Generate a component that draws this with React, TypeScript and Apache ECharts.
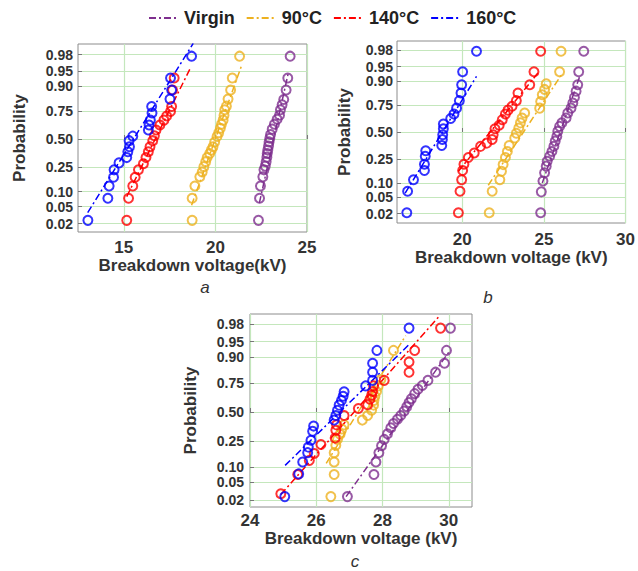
import React, { useEffect, useRef } from "react";
import * as echarts from "echarts";

// ---------- data (breakdown voltage kV, cumulative probability) ----------
const seriesNames = ["Virgin", "90°C", "140°C", "160°C"];
const seriesColors = ["#7E2F8E", "#EDB120", "#FF0000", "#0000FF"];
const probTicks = [0.02, 0.05, 0.1, 0.25, 0.5, 0.75, 0.9, 0.95, 0.98];
const probTickLabels = ["0.02", "0.05", "0.10", "0.25", "0.50", "0.75", "0.90", "0.95", "0.98"];

// panel a
const aVirginV = [22.35, 22.41, 22.46, 22.59, 22.65, 22.72, 22.77, 22.81, 22.83, 22.86, 22.9, 22.93, 22.97, 23.01, 23.1, 23.22, 23.37, 23.5, 23.55, 23.64, 23.73, 23.86, 23.95, 24.08];
const aVirginP = [0.024, 0.075, 0.127, 0.179, 0.227, 0.255, 0.291, 0.33, 0.363, 0.394, 0.433, 0.472, 0.508, 0.544, 0.595, 0.641, 0.684, 0.719, 0.761, 0.797, 0.832, 0.883, 0.931, 0.978];
const a90V = [18.73, 18.73, 18.88, 19.15, 19.28, 19.37, 19.47, 19.55, 19.69, 19.78, 19.87, 19.96, 20.09, 20.18, 20.27, 20.33, 20.42, 20.47, 20.51, 20.6, 20.69, 20.83, 20.92, 21.32];
const a90P = [0.024, 0.075, 0.127, 0.179, 0.212, 0.251, 0.291, 0.326, 0.363, 0.394, 0.425, 0.472, 0.524, 0.56, 0.603, 0.641, 0.677, 0.719, 0.761, 0.788, 0.834, 0.883, 0.931, 0.978];
const a140V = [15.16, 15.26, 15.49, 15.62, 15.8, 16.07, 16.21, 16.34, 16.43, 16.58, 16.67, 16.76, 16.97, 17.19, 17.34, 17.55, 17.61, 17.66, 17.75];
const a140P = [0.024, 0.075, 0.127, 0.176, 0.227, 0.274, 0.326, 0.378, 0.425, 0.484, 0.532, 0.587, 0.633, 0.677, 0.712, 0.749, 0.785, 0.883, 0.931];
const a160V = [13.04, 14.13, 14.2, 14.44, 14.47, 14.74, 15.16, 15.22, 15.31, 15.29, 15.49, 16.34, 16.38, 16.45, 16.54, 16.52, 17.52, 17.61, 17.55, 18.7];
const a160P = [0.024, 0.075, 0.127, 0.176, 0.227, 0.281, 0.326, 0.378, 0.425, 0.484, 0.528, 0.587, 0.633, 0.677, 0.736, 0.785, 0.834, 0.883, 0.931, 0.978];
const aVirginFit = [[22.4, 0.06], [24.0, 0.95]];
const a90Fit = [[18.7, 0.054], [21.41, 0.961]];
const a140Fit = [[15.16, 0.081], [18.6, 0.955]];
const a160Fit = [[13.03, 0.037], [18.79, 0.99]];

// panel b
const bVirginV = [24.8, 24.84, 24.94, 25.04, 25.14, 25.2, 25.35, 25.49, 25.61, 25.69, 25.79, 25.85, 25.96, 26.1, 26.36, 26.46, 26.66, 26.77, 26.87, 26.97, 27.07, 27.13, 27.44];
const bVirginP = [0.021, 0.066, 0.109, 0.152, 0.195, 0.23, 0.271, 0.312, 0.359, 0.409, 0.456, 0.508, 0.556, 0.591, 0.637, 0.684, 0.726, 0.767, 0.808, 0.848, 0.883, 0.935, 0.979];
const b90V = [21.65, 21.83, 22.3, 22.4, 22.5, 22.64, 22.76, 22.87, 23.21, 23.31, 23.46, 23.56, 23.66, 23.82, 24.74, 24.8, 24.9, 25.04, 25.14, 25.96, 26.05];
const b90P = [0.021, 0.068, 0.115, 0.161, 0.206, 0.261, 0.312, 0.367, 0.44, 0.488, 0.54, 0.591, 0.637, 0.684, 0.726, 0.779, 0.826, 0.858, 0.887, 0.935, 0.979];
const b140V = [19.76, 19.86, 19.96, 20.02, 20.1, 20.37, 20.73, 21.12, 21.5, 21.83, 21.89, 22.0, 22.26, 22.45, 22.64, 22.8, 23.05, 23.31, 23.41, 24.13, 24.39, 24.8];
const b140P = [0.021, 0.068, 0.115, 0.166, 0.209, 0.261, 0.298, 0.359, 0.39, 0.425, 0.472, 0.532, 0.568, 0.622, 0.674, 0.709, 0.742, 0.785, 0.837, 0.883, 0.935, 0.979];
const b160V = [16.6, 16.65, 17.01, 17.68, 17.68, 17.73, 17.76, 18.74, 18.78, 18.8, 18.84, 18.84, 19.29, 19.49, 19.65, 19.82, 19.92, 19.96, 20.02, 20.87];
const b160P = [0.021, 0.068, 0.115, 0.166, 0.209, 0.271, 0.319, 0.367, 0.425, 0.472, 0.532, 0.579, 0.633, 0.674, 0.726, 0.785, 0.837, 0.883, 0.935, 0.979];
const bVirginFit = [[24.9, 0.1], [27.2, 0.92]];
const b90Fit = [[21.59, 0.09], [26.16, 0.932]];
const b140Fit = [[19.75, 0.16], [24.63, 0.931]];
const b160Fit = [[16.5, 0.062], [20.87, 0.919]];

// panel c
const cVirginV = [26.94, 27.74, 27.8, 27.89, 27.97, 28.05, 28.15, 28.25, 28.33, 28.45, 28.55, 28.65, 28.73, 28.8, 28.87, 28.97, 29.07, 29.2, 29.37, 29.6, 29.87, 29.93, 30.05];
const cVirginP = [0.024, 0.072, 0.121, 0.171, 0.215, 0.261, 0.305, 0.356, 0.394, 0.433, 0.468, 0.508, 0.548, 0.587, 0.622, 0.666, 0.702, 0.732, 0.77, 0.824, 0.873, 0.925, 0.975];
const c90V = [26.44, 26.54, 26.54, 26.54, 26.59, 26.64, 26.72, 26.77, 26.84, 27.39, 27.55, 27.67, 27.73, 27.74, 27.77, 27.82, 27.87, 27.95, 28.33];
const c90P = [0.024, 0.072, 0.121, 0.171, 0.218, 0.261, 0.302, 0.345, 0.382, 0.425, 0.468, 0.516, 0.564, 0.606, 0.644, 0.684, 0.729, 0.776, 0.925];
const c140V = [24.93, 25.44, 25.79, 25.94, 26.14, 26.57, 26.59, 26.61, 26.84, 27.27, 27.55, 27.62, 27.67, 27.7, 27.73, 28.05, 28.8, 28.8, 28.97, 29.75];
const c140P = [0.028, 0.072, 0.129, 0.166, 0.224, 0.271, 0.334, 0.382, 0.468, 0.532, 0.568, 0.618, 0.652, 0.684, 0.729, 0.77, 0.824, 0.879, 0.925, 0.975];
const c160V = [25.05, 25.47, 25.59, 25.74, 25.76, 25.84, 25.89, 25.92, 26.54, 26.59, 26.64, 26.69, 26.76, 26.81, 26.84, 27.49, 27.7, 27.7, 27.7, 27.83, 28.8];
const c160P = [0.024, 0.074, 0.121, 0.171, 0.206, 0.255, 0.326, 0.371, 0.425, 0.468, 0.516, 0.564, 0.606, 0.644, 0.681, 0.729, 0.77, 0.824, 0.873, 0.925, 0.975];
const cVirginFit = [[26.9, 0.024], [30.0, 0.919]];
const c90Fit = [[26.3, 0.115], [28.7, 0.963]];
const c140Fit = [[24.93, 0.027], [29.7, 0.987]];
const c160Fit = [[25.06, 0.106], [28.83, 0.945]];

// x-axis tick labels
const aXTicks = [15, 20, 25];
const bXTicks = [20, 25, 30];
const cXTicks = [24, 26, 28, 30];

// ---------- normal-probability scale ----------
function probit(p: number): number {
  const a = [-39.69683028665376, 220.9460984245205, -275.9285104469687, 138.357751867269, -30.66479806614716, 2.506628277459239];
  const b = [-54.47609879822406, 161.5858368580409, -155.6989798598866, 66.80131188771972, -13.28068155833025];
  const c = [-0.007784894002430293, -0.3223964580411365, -2.400758277161838, -2.549671010243296, 4.374664141464968, 2.938163982698783];
  const d = [0.007784695709041462, 0.3224671290700398, 2.445134137142996, 3.754408661907416];
  const pl = 0.02425;
  if (p < pl) {
    const q = Math.sqrt(-2 * Math.log(p));
    return (((((c[0] * q + c[1]) * q + c[2]) * q + c[3]) * q + c[4]) * q + c[5]) / ((((d[0] * q + d[1]) * q + d[2]) * q + d[3]) * q + 1);
  }
  if (p <= 1 - pl) {
    const q = p - 0.5;
    const r = q * q;
    return ((((((a[0] * r + a[1]) * r + a[2]) * r + a[3]) * r + a[4]) * r + a[5]) * q) / (((((b[0] * r + b[1]) * r + b[2]) * r + b[3]) * r + b[4]) * r + 1);
  }
  const q = Math.sqrt(-2 * Math.log(1 - p));
  return -(((((c[0] * q + c[1]) * q + c[2]) * q + c[3]) * q + c[4]) * q + c[5]) / ((((d[0] * q + d[1]) * q + d[2]) * q + d[3]) * q + 1);
}

const FONT = "Liberation Sans, Arial, Helvetica, sans-serif";

export default function App() {
  const ref = useRef<HTMLDivElement>(null);

  useEffect(() => {
    if (!ref.current) return;
    const chart = echarts.init(ref.current, null, { renderer: "svg" });

    const zTicks = probTicks.map(probit);
    const probLabel = (v: number) => {
      let best = 0;
      for (let i = 0; i < zTicks.length; i++) if (Math.abs(zTicks[i] - v) < Math.abs(zTicks[best] - v)) best = i;
      return probTickLabels[best];
    };

    const panels = [
      {
        grid: { left: 78, top: 44, width: 229, height: 188 },
        xMin: 12.5, xMax: 25, yMin: -2.26, yMax: 2.31, xTicks: aXTicks,
        xName: "Breakdown voltage(kV)", xLabelMargin: 7, xNameGap: 25, yLabelMargin: 5, yNameGap: 50,
        pts: [[aVirginV, aVirginP], [a90V, a90P], [a140V, a140P], [a160V, a160P]],
        fits: [aVirginFit, a90Fit, a140Fit, a160Fit],
      },
      {
        grid: { left: 397, top: 41, width: 231, height: 182 },
        xMin: 16, xMax: 30, yMin: -2.29, yMax: 2.29, xTicks: bXTicks,
        xName: "Breakdown voltage (kV)", xLabelMargin: 8, xNameGap: 24, yLabelMargin: 4, yNameGap: 44,
        pts: [[bVirginV, bVirginP], [b90V, b90P], [b140V, b140P], [b160V, b160P]],
        fits: [bVirginFit, b90Fit, b140Fit, b160Fit],
      },
      {
        grid: { left: 250, top: 314, width: 222, height: 193 },
        xMin: 24, xMax: 30.7, yMin: -2.22, yMax: 2.29, xTicks: cXTicks,
        xName: "Breakdown voltage (kV)", xLabelMargin: 5, xNameGap: 21, yLabelMargin: 6, yNameGap: 51,
        pts: [[cVirginV, cVirginP], [c90V, c90P], [c140V, c140P], [c160V, c160P]],
        fits: [cVirginFit, c90Fit, c140Fit, c160Fit],
      },
    ];

    const nameStyle = { fontFamily: FONT, fontSize: 17, fontWeight: "bold" as const, color: "#333" };
    const xLabelStyle = { fontFamily: FONT, fontSize: 17, fontWeight: "bold" as const, color: "#333" };
    const yLabelStyle = { fontFamily: FONT, fontSize: 14, lineHeight: 14, fontWeight: "bold" as const, color: "#333" };
    const gridLine = { show: true, lineStyle: { color: "#c4e7bc", width: 1.2 } };

    const grids = panels.map((p) => ({ ...p.grid, show: true, borderColor: "#8c8c8c", borderWidth: 1 }));
    const xAxes = panels.map((p, i) => ({
      type: "value", gridIndex: i, min: p.xMin, max: p.xMax,
      axisLine: { show: false },
      axisTick: { show: true, inside: true, length: 4, customValues: p.xTicks, lineStyle: { color: "#777" } },
      axisLabel: { ...xLabelStyle, customValues: p.xTicks, margin: p.xLabelMargin, hideOverlap: false },
      splitLine: gridLine,
      name: p.xName, nameLocation: "middle", nameGap: p.xNameGap,
      nameTextStyle: nameStyle,
    }));
    const yAxes = panels.map((p, i) => ({
      type: "value", gridIndex: i, min: p.yMin, max: p.yMax,
      axisLine: { show: false },
      axisTick: { show: true, inside: true, length: 4, customValues: zTicks, lineStyle: { color: "#777" } },
      axisLabel: { ...yLabelStyle, customValues: zTicks, margin: p.yLabelMargin, hideOverlap: false, formatter: (v: number) => probLabel(v) },
      splitLine: gridLine,
      name: "Probability", nameLocation: "middle", nameGap: p.yNameGap, nameRotate: 90,
      nameTextStyle: nameStyle,
    }));

    const series: any[] = [];
    panels.forEach((p, pi) => {
      p.fits.forEach((fit, si) => {
        series.push({
          type: "line", name: seriesNames[si], xAxisIndex: pi, yAxisIndex: pi,
          data: fit.map(([v, pr]) => [v, probit(pr)]),
          symbol: "none", showSymbol: false, clip: true, z: 2,
          itemStyle: { color: seriesColors[si] },
          lineStyle: { color: seriesColors[si], width: 1.5, type: [7, 3, 2, 3] },
        });
      });
    });
    panels.forEach((p, pi) => {
      p.pts.forEach(([vs, ps], si) => {
        series.push({
          type: "scatter", name: seriesNames[si], xAxisIndex: pi, yAxisIndex: pi,
          data: vs.map((v, k) => [v, probit(ps[k])]),
          symbol: "circle", symbolSize: 9, z: 3,
          itemStyle: { color: "rgba(0,0,0,0)", borderColor: seriesColors[si], borderWidth: 2 },
        });
      });
    });

    const panelTag = (text: string, x: number, y: number) => ({
      type: "text", x, y,
      style: { text, fontFamily: FONT, fontSize: 17, fontStyle: "italic", fill: "#333", textAlign: "center", textVerticalAlign: "middle" },
    });

    chart.setOption({
      animation: false,
      textStyle: { fontFamily: FONT },
      legend: {
        data: seriesNames, top: 4, left: 143, itemWidth: 30, itemHeight: 10, itemGap: 11,
        itemStyle: { opacity: 0 },
        textStyle: { fontFamily: FONT, fontSize: 18, fontWeight: "bold", color: "#222" },
      },
      grid: grids,
      xAxis: xAxes,
      yAxis: yAxes,
      series,
      graphic: [panelTag("a", 205, 287), panelTag("b", 488, 297), panelTag("c", 355, 561)],
    });

    return () => chart.dispose();
  }, []);

  return <div ref={ref} style={{ position: "fixed", left: 0, top: 0, width: 638, height: 571, background: "#fff" }} />;
}
